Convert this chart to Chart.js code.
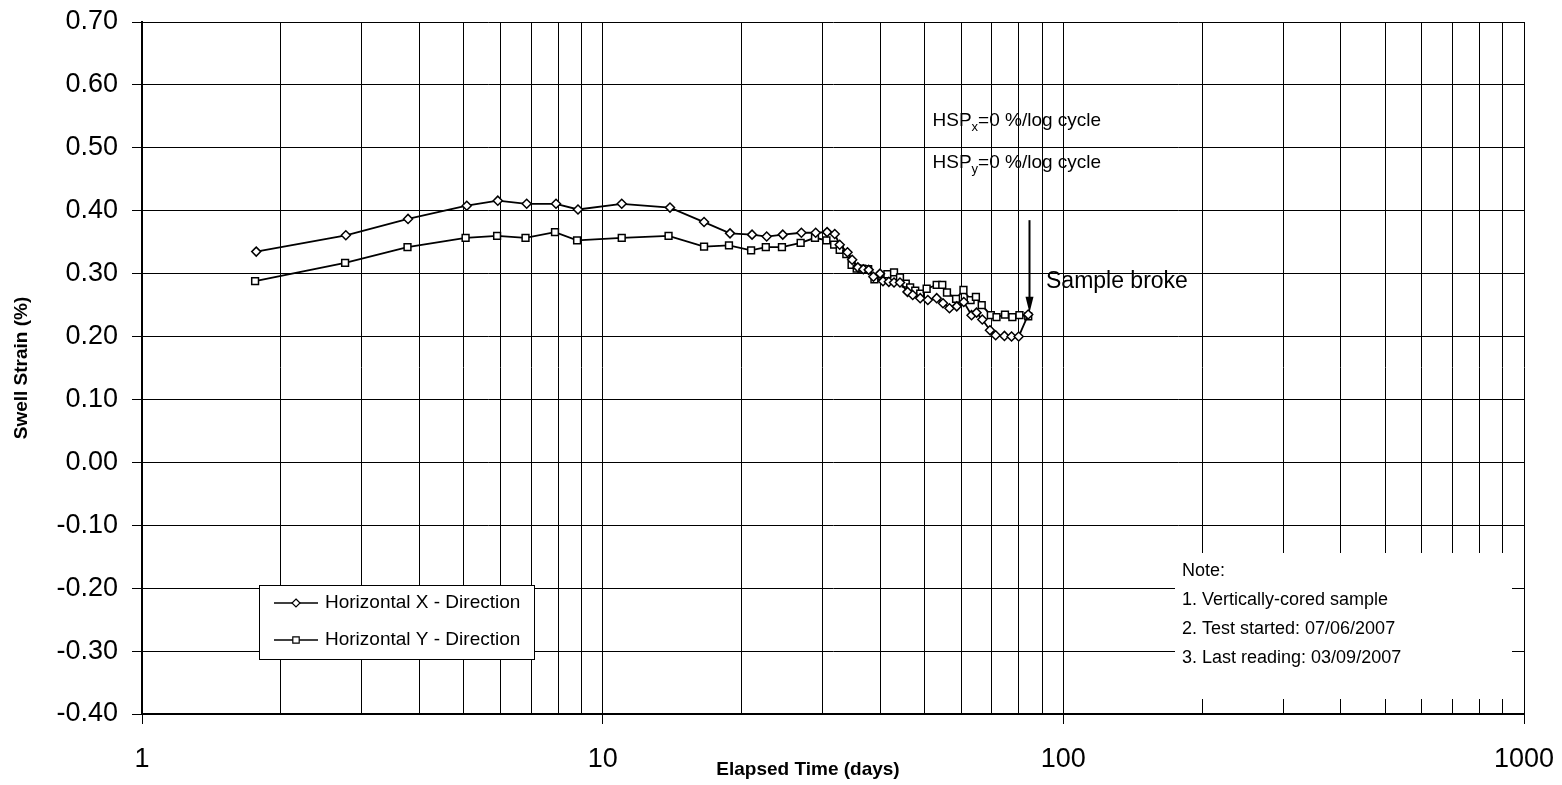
<!DOCTYPE html>
<html>
<head>
<meta charset="utf-8">
<title>Swell Strain vs Elapsed Time</title>
<script src="https://cdn.jsdelivr.net/npm/chart.js@4.4.1/dist/chart.umd.min.js"></script>
<style>
  html, body { margin: 0; padding: 0; background: #fff; }
  canvas { display: block; }
</style>
</head>
<body>
<canvas id="swellChart" width="1562" height="785"></canvas>
<script>
// Horizontal X readings: elapsed time (days) / swell strain (%)
const xDirDays = [1.77, 2.77, 3.78, 5.07, 5.92, 6.84, 7.92, 8.84, 11.0, 14.0, 16.6, 18.9, 21.1, 22.7, 24.6,
  27.0, 29.0, 30.7, 31.9, 32.7, 34.0, 34.8, 35.8, 36.8, 37.8, 38.7, 40.0, 40.6, 41.8, 42.9, 44.2, 45.9,
  47.1, 48.9, 50.8, 53.1, 54.8, 56.6, 58.7, 60.8, 63.2, 64.8, 66.7, 69.3, 71.3, 74.5, 77.2, 80.0, 83.9];
const xDirStrain = [0.335, 0.361, 0.387, 0.408, 0.416, 0.411, 0.411, 0.402, 0.411, 0.405, 0.382, 0.364, 0.362, 0.359, 0.362,
  0.365, 0.365, 0.366, 0.363, 0.346, 0.334, 0.322, 0.310, 0.307, 0.306, 0.295, 0.300, 0.288, 0.287, 0.286, 0.286, 0.271,
  0.266, 0.261, 0.258, 0.261, 0.253, 0.245, 0.248, 0.255, 0.234, 0.238, 0.227, 0.210, 0.202, 0.201, 0.200, 0.200, 0.235];

// Horizontal Y readings
const yDirDays = [1.76, 2.76, 3.77, 5.04, 5.90, 6.80, 7.88, 8.80, 11.0, 13.9, 16.6, 18.8, 21.0, 22.6, 24.5,
  26.9, 28.9, 30.6, 31.8, 32.7, 33.8, 34.7, 35.6, 36.6, 37.7, 38.9, 40.3, 41.5, 42.9, 44.2, 45.5, 46.5,
  47.7, 48.9, 50.5, 53.1, 54.6, 55.9, 58.5, 60.7, 62.9, 64.6, 66.5, 69.6, 71.6, 74.7, 77.5, 80.3, 83.9];
const yDirStrain = [0.288, 0.317, 0.342, 0.357, 0.360, 0.357, 0.366, 0.353, 0.357, 0.360, 0.343, 0.345, 0.337, 0.342, 0.342,
  0.349, 0.357, 0.353, 0.346, 0.338, 0.331, 0.314, 0.308, 0.308, 0.307, 0.291, 0.296, 0.299, 0.302, 0.294, 0.284, 0.278,
  0.273, 0.268, 0.276, 0.282, 0.282, 0.270, 0.260, 0.274, 0.258, 0.263, 0.250, 0.234, 0.231, 0.235, 0.231, 0.234, 0.232];

const seriesNames = ['Horizontal X - Direction', 'Horizontal Y - Direction'];
const xMajorTicks = [1, 10, 100, 1000];
const yMin = -0.4, yMax = 0.7, yStep = 0.1;

const hspLines = [['HSP', 'x', '=0 %/log cycle'], ['HSP', 'y', '=0 %/log cycle']];
const noteLines = ['Note:', '1. Vertically-cored sample', '2. Test started: 07/06/2007', '3. Last reading: 03/09/2007'];
const sampleBrokeDay = 84.2;
const sampleBrokeFrom = 0.385, sampleBrokeTo = 0.238;

const FONT = "'Liberation Sans', Arial, sans-serif";

// every 1..9 multiple in each decade becomes a grid line
const xGridValues = [];
for (let d = 0; d < xMajorTicks.length - 1; d++) {
  for (let m = 1; m < 10; m++) xGridValues.push(xMajorTicks[d] * m);
}
xGridValues.push(xMajorTicks[xMajorTicks.length - 1]);

const toPoints = (xs, ys) => xs.map((v, i) => ({ x: v, y: ys[i] }));

function diamond(ctx, cx, cy, r) {
  ctx.beginPath();
  ctx.moveTo(cx, cy - r); ctx.lineTo(cx + r, cy); ctx.lineTo(cx, cy + r); ctx.lineTo(cx - r, cy);
  ctx.closePath(); ctx.fill(); ctx.stroke();
}
function square(ctx, cx, cy, s) {
  ctx.beginPath(); ctx.rect(cx - s, cy - s, 2 * s, 2 * s); ctx.fill(); ctx.stroke();
}

const overlay = {
  id: 'overlay',
  afterDraw(chart) {
    const { ctx, chartArea: a, scales: { x, y } } = chart;
    ctx.save();
    ctx.fillStyle = '#000';
    ctx.strokeStyle = '#000';

    // axis titles
    ctx.font = `bold 19px ${FONT}`;
    ctx.textAlign = 'center';
    ctx.textBaseline = 'middle';
    ctx.fillText('Elapsed Time (days)', 808, 770);
    ctx.save();
    ctx.translate(22, (a.top + a.bottom) / 2);
    ctx.rotate(-Math.PI / 2);
    ctx.fillText('Swell Strain (%)', 0, 0);
    ctx.restore();

    // HSP notes
    ctx.textAlign = 'left';
    const hx = x.getPixelForValue(52);
    [0.543, 0.476].forEach((v, i) => {
      const hy = y.getPixelForValue(v);
      const [a1, sub, rest] = hspLines[i];
      ctx.font = `19px ${FONT}`;
      ctx.fillText(a1, hx, hy);
      let px = hx + ctx.measureText(a1).width;
      ctx.font = `13px ${FONT}`;
      ctx.fillText(sub, px, hy + 7);
      px += ctx.measureText(sub).width;
      ctx.font = `19px ${FONT}`;
      ctx.fillText(rest, px, hy);
    });

    // arrow to the last reading
    const ax = Math.round(x.getPixelForValue(sampleBrokeDay)) + 0.5;
    const ay0 = y.getPixelForValue(sampleBrokeFrom);
    const ay1 = y.getPixelForValue(sampleBrokeTo);
    ctx.lineWidth = 2;
    ctx.beginPath(); ctx.moveTo(ax, ay0); ctx.lineTo(ax, ay1 - 12); ctx.stroke();
    ctx.beginPath(); ctx.moveTo(ax - 4, ay1 - 16); ctx.lineTo(ax + 4, ay1 - 16); ctx.lineTo(ax, ay1); ctx.closePath(); ctx.fill();
    ctx.font = `23px ${FONT}`;
    ctx.fillText('Sample broke', x.getPixelForValue(91.7), y.getPixelForValue(0.288));

    // note box
    ctx.fillStyle = '#fff';
    ctx.fillRect(a.right - 349, a.bottom - 161, 337, 146);
    ctx.fillStyle = '#000';
    ctx.font = `18px ${FONT}`;
    noteLines.forEach((t, i) => ctx.fillText(t, a.right - 342, a.bottom - 143 + i * 29));

    // legend
    const lx = a.left + 117, ly = a.bottom - 129;
    ctx.fillStyle = '#fff';
    ctx.fillRect(lx, ly, 275, 74);
    ctx.lineWidth = 1;
    ctx.strokeRect(lx + 0.5, ly + 0.5, 275, 74);
    ctx.font = `19px ${FONT}`;
    seriesNames.forEach((name, i) => {
      const ry = ly + 18 + i * 37;
      ctx.strokeStyle = '#000';
      ctx.lineWidth = 1.5;
      ctx.beginPath(); ctx.moveTo(lx + 15, ry); ctx.lineTo(lx + 59, ry); ctx.stroke();
      ctx.fillStyle = '#fff';
      ctx.lineWidth = 1.2;
      if (i === 0) diamond(ctx, lx + 37, ry, 4); else square(ctx, lx + 37, ry, 3.2);
      ctx.fillStyle = '#000';
      ctx.fillText(name, lx + 66, ry);
    });
    ctx.restore();
  }
};

new Chart(document.getElementById('swellChart'), {
  type: 'scatter',
  data: {
    datasets: [
      {
        label: seriesNames[0],
        data: toPoints(xDirDays, xDirStrain),
        showLine: true,
        borderColor: '#000',
        borderWidth: 1.8,
        pointStyle: 'rectRot',
        pointRadius: 4.5,
        pointBackgroundColor: '#fff',
        pointBorderColor: '#000',
        pointBorderWidth: 1.5
      },
      {
        label: seriesNames[1],
        data: toPoints(yDirDays, yDirStrain),
        showLine: true,
        borderColor: '#000',
        borderWidth: 1.8,
        pointStyle: 'rect',
        pointRadius: 4.8,
        pointBackgroundColor: '#fff',
        pointBorderColor: '#000',
        pointBorderWidth: 1.5
      }
    ]
  },
  options: {
    responsive: false,
    animation: false,
    devicePixelRatio: 1,
    layout: { padding: { top: 22, right: 38, left: 0, bottom: 0 } },
    plugins: {
      legend: { display: false },
      tooltip: { enabled: false }
    },
    scales: {
      x: {
        type: 'logarithmic',
        min: 1,
        max: 1000,
        afterBuildTicks: (scale) => {
          scale.ticks = xGridValues.map(v => ({ value: v, major: xMajorTicks.includes(v) }));
        },
        // fixed axis band; end labels fit inside the layout padding
        afterFit: (scale) => {
          scale.height = 71;
          scale.paddingLeft = 0;
          scale.paddingRight = 0;
        },
        border: { color: '#000', width: 2 },
        grid: {
          color: '#000',
          lineWidth: 1,
          tickLength: 10,
          tickColor: (c) => (c.tick && xMajorTicks.includes(c.tick.value) ? '#000' : 'rgba(0,0,0,0)')
        },
        ticks: {
          autoSkip: false,
          maxRotation: 0,
          padding: 19,
          color: '#000',
          font: { family: FONT, size: 27 },
          callback: (v) => (xMajorTicks.includes(v) ? String(v) : '')
        }
      },
      y: {
        min: yMin,
        max: yMax,
        afterFit: (scale) => {
          scale.width = 142;
          scale.paddingTop = 0;
          scale.paddingBottom = 0;
        },
        border: { color: '#000', width: 2 },
        grid: { color: '#000', lineWidth: 1, tickLength: 10, tickColor: '#000' },
        ticks: {
          stepSize: yStep,
          padding: 14,
          color: '#000',
          font: { family: FONT, size: 27 },
          callback: (v) => Number(v).toFixed(2)
        }
      }
    }
  },
  plugins: [overlay]
});
</script>
</body>
</html>
